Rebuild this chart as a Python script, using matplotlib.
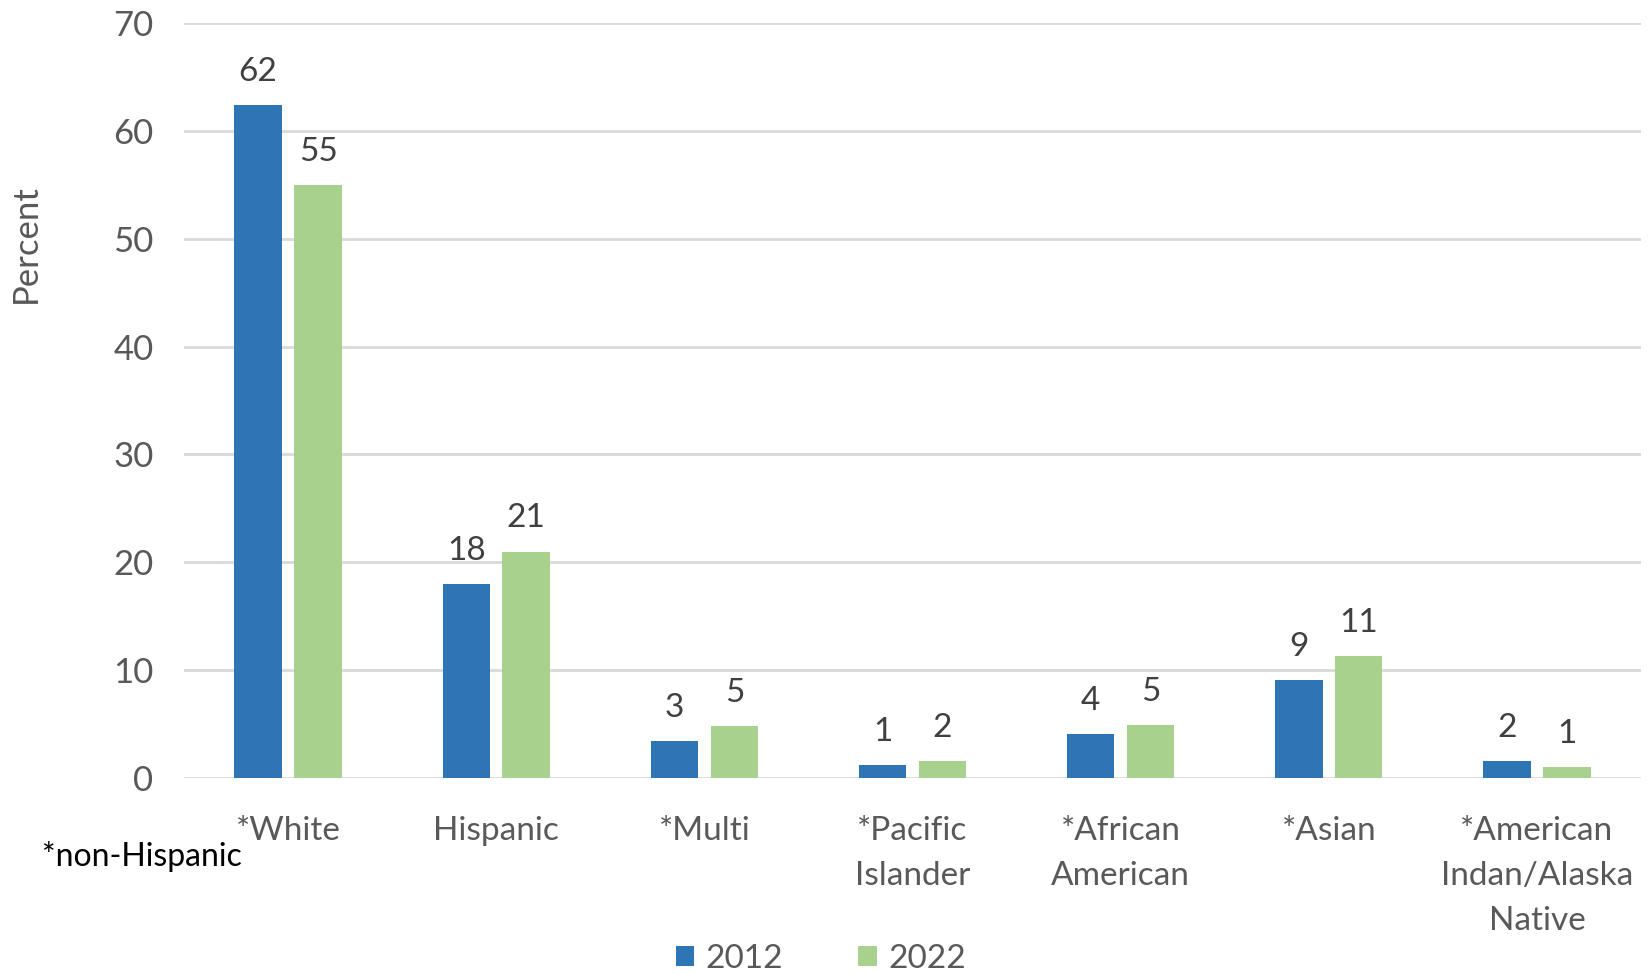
import matplotlib.pyplot as plt
import numpy as np

# категорії та значення (відсотки)
groups = ["*White", "Hispanic", "*Multi", "*Pacific\nIslander", "*African\nAmerican",
          "*Asian", "*American\nIndan/Alaska\nNative"]
pct_2012 = [62.4, 18.0, 3.4, 1.2, 4.1, 9.1, 1.55]
pct_2022 = [55.0, 21.0, 4.8, 1.6, 4.9, 11.3, 1.0]
years = ["2012", "2022"]

blue = "#2E75B6"
green = "#A9D18E"
grey = "#595959"

plt.rcParams["font.family"] = ["Lato", "DejaVu Sans"]

fig = plt.figure(figsize=(16.52, 9.75), dpi=100)
ax = fig.add_axes([184 / 1652, (975 - 778) / 975, (1641 - 184) / 1652, (778 - 23) / 975])

x = np.arange(len(groups))
w = 0.228
b1 = ax.bar(x - 0.144, pct_2012, w, color=blue, label=years[0], zorder=3)
b2 = ax.bar(x + 0.144, pct_2022, w, color=green, label=years[1], zorder=3)

ax.bar_label(b1, fmt="%.0f", padding=13, fontsize=24, color="#404040")
ax.bar_label(b2, fmt="%.0f", padding=13, fontsize=24, color="#404040")

ax.set_xlim(-0.5, len(groups) - 0.5)
ax.set_ylim(0, 70)
ax.set_yticks(range(0, 71, 10))
ax.grid(axis="y", color="#D9D9D9", linewidth=2, zorder=0)
for s in ax.spines.values():
    s.set_visible(False)
ax.tick_params(axis="both", length=0, labelcolor=grey)
ax.tick_params(axis="y", pad=22, labelsize=25)
ax.tick_params(axis="x", pad=27, labelsize=24)
ax.set_xticks(x)
ax.set_xticklabels(groups, linespacing=1.63)

fig.text(26 / 1652, 1 - 244 / 975, "Percent", rotation=90, ha="center", va="center",
         fontsize=25, color=grey)
fig.text(42 / 1652, 1 - 857 / 975, "*non-Hispanic", ha="left", va="center",
         fontsize=23, color="black")

fig.legend(handles=[b1, b2], labels=years, loc="center", bbox_to_anchor=(821 / 1652, 1 - 959 / 975),
           ncol=2, frameon=False, fontsize=24, labelcolor=grey, handlelength=0.55,
           handleheight=0.55, columnspacing=2.25, handletextpad=0.35)

fig.savefig("out.png", dpi=100)
